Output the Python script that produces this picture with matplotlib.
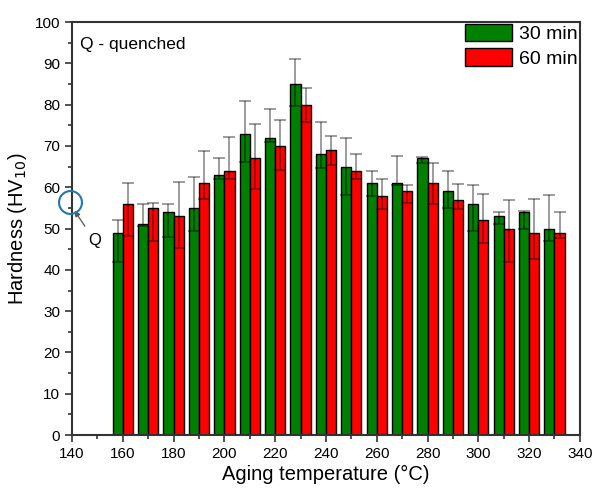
"""Hardness vs aging temperature, 30 and 60 min aging times."""

import matplotlib

matplotlib.use("Agg")
import matplotlib.pyplot as plt
import numpy as np

plt.rcParams["font.family"] = ["Liberation Sans", "DejaVu Sans"]

# Data
temperatures = [160, 170, 180, 190, 200, 210, 220, 230, 240,
                250, 260, 270, 280, 290, 300, 310, 320, 330]
hv_30 = [49, 51, 54, 55, 63, 73, 72, 85, 68, 65, 61, 61, 67, 59, 56, 53, 54, 50]
hv_60 = [56, 55, 53, 61, 64, 67, 70, 80, 69, 64, 58, 59, 61, 57, 52, 50, 49, 49]
err_30_up = [3, 5, 2, 7.5, 4, 8, 7, 6, 7.7, 7, 3, 6.5, 0.3, 5, 4.5, 1.1, 0.3, 8.2]
err_30_low = [7, 0.5, 6, 5.7, 1, 7, 1, 5.2, 3.4, 6.8, 3, 0.5, 1.2, 4, 6.5, 1.8, 4, 3]
err_60_up = [5, 1.1, 8.2, 7.7, 8.1, 8.4, 6.3, 4.1, 3.5, 4, 3.9, 1.5, 4.9, 3.9, 6.4, 7, 8.2, 5.1]
err_60_low = [7.8, 8, 7.7, 3.8, 2.1, 7.4, 5.7, 4.1, 3.6, 2.1, 3.2, 2.8, 5, 2.2, 5.5, 8, 6.3, 1.2]
quenched_hv = 56.4

fig = plt.figure(figsize=(5.94, 4.91), dpi=100)
ax = fig.add_axes([0.1212, 0.114, 0.855, 0.841])

x = np.array(temperatures, dtype=float)
width = 4
err_style = dict(fmt="none", ecolor="black", alpha=0.45, elinewidth=1.2,
                 capsize=4, capthick=1.2, zorder=3)

ax.bar(x - width / 2, hv_30, width, color="#008000", edgecolor="black",
       linewidth=1, label="30 min", zorder=2)
ax.bar(x + width / 2, hv_60, width, color="#ff0000", edgecolor="black",
       linewidth=1, label="60 min", zorder=2)
ax.errorbar(x - width / 2, hv_30, yerr=[err_30_low, err_30_up], **err_style)
ax.errorbar(x + width / 2, hv_60, yerr=[err_60_low, err_60_up], **err_style)

# Quenched state marker on the y axis
ax.plot([139.2], [quenched_hv], marker="o", markersize=16.5, markerfacecolor="none",
        markeredgecolor="#1f77b4", markeredgewidth=1.5, clip_on=False, zorder=5)
ax.annotate("Q", xy=(141.0, 54.3), xytext=(149, 47), fontsize=12,
            ha="center", va="center",
            arrowprops=dict(arrowstyle="-|>", color="#555555", lw=0.9,
                            mutation_scale=8, shrinkA=4, shrinkB=0))

ax.text(0.016, 0.965, "Q - quenched", transform=ax.transAxes, fontsize=12.5,
        ha="left", va="top")

ax.set_xlim(140, 340)
ax.set_ylim(0, 100)
ax.set_xticks(np.arange(140, 341, 20))
ax.set_xticks(np.arange(150, 341, 20), minor=True)
ax.set_yticks(np.arange(0, 101, 10))
ax.set_yticks(np.arange(5, 100, 10), minor=True)
ax.tick_params(which="both", direction="out", labelsize=11, width=1.2,
               color="#333333", top=False, right=False)
ax.tick_params(which="major", length=5)
ax.tick_params(which="minor", length=3)
for spine in ax.spines.values():
    spine.set_linewidth(1.5)
    spine.set_color("#333333")

ax.set_xlabel("Aging temperature (°C)", fontsize=14.5, labelpad=3)
ax.set_ylabel("Hardness (HV$_{10}$)", fontsize=14.5, labelpad=4)

ax.legend(loc="upper right", fontsize=14, frameon=False, handlelength=2.4,
          handleheight=1.0, handletextpad=0.4, labelspacing=0.25,
          borderaxespad=0.0, borderpad=0.1)

fig.savefig("out.png", dpi=100)
